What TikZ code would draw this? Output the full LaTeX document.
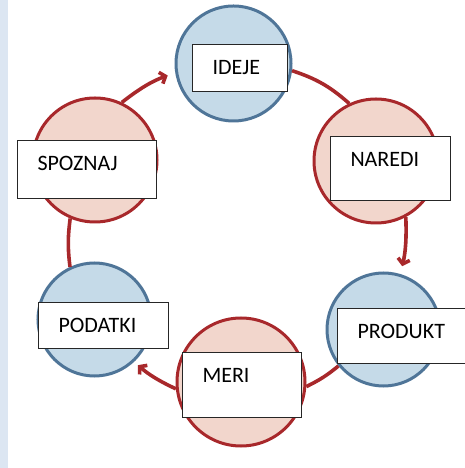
\documentclass[tikz,border=0pt]{standalone}
\usepackage{fontspec}
\setmainfont{Carlito}
\usetikzlibrary{arrows.meta}
\definecolor{strip}{HTML}{DCE6F2}
\definecolor{bfill}{HTML}{C5DAE8}
\definecolor{bdraw}{HTML}{4F7598}
\definecolor{rfill}{HTML}{F2D6CC}
\definecolor{rdraw}{HTML}{A8282B}
\definecolor{conncol}{HTML}{A8282B}
\tikzset{
  bluec/.style={circle, draw=bdraw, fill=bfill, line width=3pt, inner sep=0pt, minimum size=#1},
  redc/.style={circle, draw=rdraw, fill=rfill, line width=3pt, inner sep=0pt, minimum size=#1},
  box/.style 2 args={draw=black!85, line width=1pt, fill=white, anchor=north west,
    inner xsep=20pt, inner ysep=0pt, text width=#1, text height=30pt, text depth=#2,
    align=left, font=\fontsize{22}{24}\selectfont},
  conn/.style={draw=conncol, line width=3.6pt},
  arr/.style={conn, -{Straight Barb[length=5pt,width=12pt]}, shorten >=#1},
}
\begin{document}
\begin{tikzpicture}[x=1pt,y=1pt]
\useasboundingbox (0,0) rectangle (464,468);
\fill[strip] (0,0) rectangle (8,468);
% circles
\node[bluec=115pt] (ideje) at (233.5,404.5) {};
\node[redc=124pt] (naredi) at (376,307) {};
\node[bluec=113pt] (produkt) at (383.5,138.5) {};
\node[redc=128pt] (meri) at (241,86) {};
\node[bluec=113pt] (podatki) at (94.5,148.5) {};
\node[redc=124pt] (spoznaj) at (95,308) {};
% connectors
\draw[arr=8pt] (spoznaj.65.7) to[bend left=9] (ideje.189.8);
\draw[conn] (ideje.-7.3) to[bend left=11.5] (naredi.115);
\draw[arr=8pt] (naredi.-62.6) to[bend left=7.5] (produkt.73.8);
\draw[conn] (produkt.219.4) to[bend left=6.6] (meri.-4.4);
\draw[arr=5pt] (meri.186) to[bend left=7.7] (podatki.-47.6);
\draw[conn] (podatki.115.7) to[bend left=7.2] (spoznaj.247.4);
% boxes
\node[box={55pt}{17pt}] (bideje) at (192,424) {IDEJE};
\node[box={80pt}{34pt}] (bnaredi) at (330,332) {NAREDI};
\node[box={99pt}{28pt}] (bspoznaj) at (17,328) {SPOZNAJ};
\node[box={90pt}{16pt}] (bpodatki) at (38,166) {PODATKI};
\node[box={79pt}{35pt}] (bmeri) at (182,116) {MERI};
\node[box={100pt}{25pt}] (bprodukt) at (337,160) {PRODUKT};
\end{tikzpicture}
\end{document}
